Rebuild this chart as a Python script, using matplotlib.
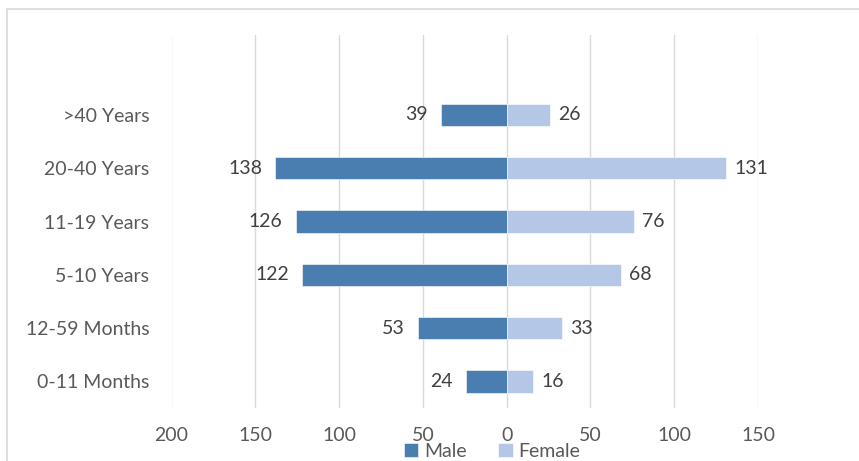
import matplotlib.pyplot as plt
from matplotlib.patches import Rectangle
import numpy as np

# ── Data ──
age_groups = ["0-11 Months", "12-59 Months", "5-10 Years",
              "11-19 Years", "20-40 Years", ">40 Years"]
male = [24, 53, 122, 126, 138, 39]
female = [16, 33, 68, 76, 131, 26]
tick_values = [-200, -150, -100, -50, 0, 50, 100, 150]

male_color = "#4a7db0"
female_color = "#b4c7e7"
text_color = "#595959"

plt.rcParams["font.family"] = ["Lato", "DejaVu Sans"]

fig = plt.figure(figsize=(8.59, 4.61), dpi=100)
ax = fig.add_axes([171.5 / 859, 53 / 461, (758 - 171.5) / 859, (408 - 35) / 461])

# outer chart frame (cut off at right and bottom like the screenshot)
fig.patches.append(Rectangle((7 / 859, -0.1), 1.2, 1 - 9 / 461 + 0.1,
                             transform=fig.transFigure, fill=False,
                             edgecolor="#d9d9d9", linewidth=1.2))

y = np.arange(len(age_groups))
bar_h = 0.42
ax.barh(y, [-m for m in male], height=bar_h, color=male_color,
        edgecolor="white", linewidth=0.4, label="Male", zorder=3)
ax.barh(y, female, height=bar_h, color=female_color,
        edgecolor="white", linewidth=0.4, label="Female", zorder=3)

# data labels
for yi, m, f in zip(y, male, female):
    ax.text(-m - 8, yi, str(m), ha="right", va="center",
            fontsize=14, color="#404040")
    ax.text(f + 5, yi, str(f), ha="left", va="center",
            fontsize=14, color="#404040")

ax.set_xlim(-200, 150)
ax.set_ylim(-0.5, 6.5)
ax.set_xticks(tick_values)
ax.set_xticklabels([str(abs(v)) for v in tick_values])
ax.set_yticks(y)
ax.set_yticklabels(age_groups)
ax.tick_params(axis="both", length=0, labelsize=14, labelcolor=text_color)
ax.tick_params(axis="y", pad=16)
ax.tick_params(axis="x", pad=14)

ax.grid(axis="x", color="#d9d9d9", linewidth=1.0, zorder=0)
for s in ax.spines.values():
    s.set_visible(False)

fig.legend(loc="center", bbox_to_anchor=(492 / 859, 1 - 451 / 461),
           ncol=2, frameon=False, fontsize=14, handlelength=0.75,
           handleheight=0.75, columnspacing=1.6, handletextpad=0.3,
           labelcolor=text_color, borderpad=0.1)

plt.savefig("out.png", dpi=100)
